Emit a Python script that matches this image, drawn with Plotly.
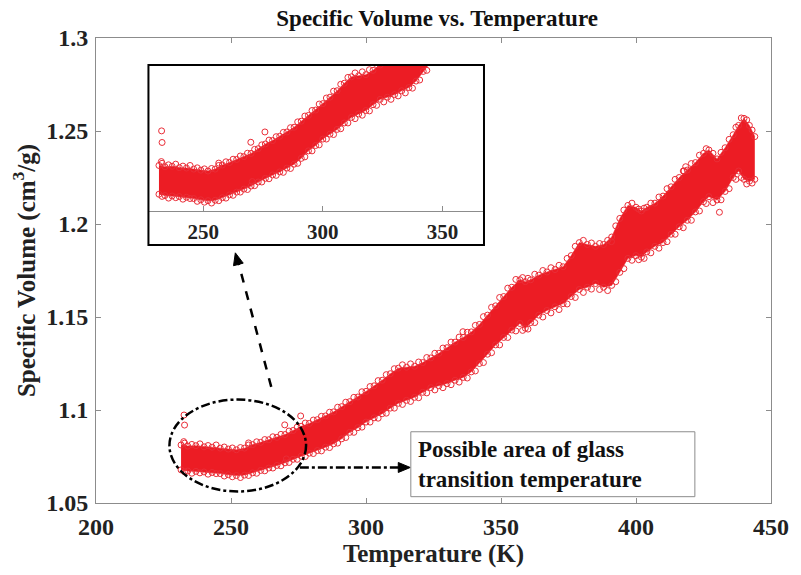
import plotly.graph_objects as go

# ---------------- data ----------------
# Temperature samples along the measured band (K)
T_edge = [231.5, 234, 237, 240, 243, 246, 249, 252, 255, 258,
          261, 264, 267, 270, 273, 276, 279, 282, 285, 288,
          291, 294, 297, 300, 303, 306, 309, 312, 315, 318,
          321, 324, 327, 330, 333, 336, 339, 342, 345, 348,
          351, 354, 357, 359, 361, 364, 367, 370, 373, 376,
          379, 382, 385, 388, 391, 394, 397, 400, 402, 404,
          407, 410, 413, 416, 419, 422, 425, 427, 430, 433,
          436, 438, 440, 442, 444]
# upper edge of the point cloud (cm^3/g)
V_upper = [1.0812, 1.0806, 1.0808, 1.0802, 1.0800, 1.0795, 1.0790, 1.0786, 1.0795, 1.0814,
           1.0826, 1.0840, 1.0853, 1.0868, 1.0890, 1.0912, 1.0928, 1.0948, 1.0968, 1.0990,
           1.1018, 1.1045, 1.1070, 1.1100, 1.1130, 1.1160, 1.1195, 1.1225, 1.1230, 1.1235,
           1.1255, 1.1280, 1.1305, 1.1335, 1.1365, 1.1390, 1.1420, 1.1460, 1.1510, 1.1560,
           1.1610, 1.1660, 1.1700, 1.1690, 1.1700, 1.1725, 1.1742, 1.1755, 1.1770, 1.1830,
           1.1900, 1.1890, 1.1880, 1.1890, 1.1930, 1.2030, 1.2100, 1.2090, 1.2070, 1.2090,
           1.2112, 1.2150, 1.2200, 1.2250, 1.2290, 1.2330, 1.2380, 1.2398, 1.2350, 1.2410,
           1.2480, 1.2530, 1.2568, 1.2530, 1.2470]
# lower edge of the point cloud (cm^3/g)
V_lower = [1.0678, 1.0672, 1.0670, 1.0667, 1.0664, 1.0658, 1.0652, 1.0648, 1.0650, 1.0662,
           1.0675, 1.0688, 1.0702, 1.0716, 1.0735, 1.0752, 1.0768, 1.0782, 1.0800, 1.0818,
           1.0845, 1.0880, 1.0905, 1.0935, 1.0958, 1.0980, 1.1010, 1.1036, 1.1052, 1.1068,
           1.1095, 1.1120, 1.1130, 1.1142, 1.1160, 1.1175, 1.1205, 1.1250, 1.1300, 1.1350,
           1.1390, 1.1430, 1.1465, 1.1440, 1.1470, 1.1510, 1.1535, 1.1555, 1.1572, 1.1610,
           1.1648, 1.1660, 1.1680, 1.1660, 1.1670, 1.1740, 1.1815, 1.1830, 1.1822, 1.1850,
           1.1880, 1.1900, 1.1945, 1.1985, 1.2020, 1.2065, 1.2120, 1.2147, 1.2129, 1.2175,
           1.2250, 1.2285, 1.2240, 1.2230, 1.2240]
# extra fuzzy edge points between the samples above
T_mid = [232.8, 235.5, 238.5, 241.5, 244.5, 247.5, 250.5, 253.5, 256.5, 259.5,
         262.5, 265.5, 268.5, 271.5, 274.5, 277.5, 280.5, 283.5, 286.5, 289.5,
         292.5, 295.5, 298.5, 301.5, 304.5, 307.5, 310.5, 313.5, 316.5, 319.5,
         322.5, 325.5, 328.5, 331.5, 334.5, 337.5, 340.5, 343.5, 346.5, 349.5,
         352.5, 355.5, 358, 360, 362.5, 365.5, 368.5, 371.5, 374.5, 377.5,
         380.5, 383.5, 386.5, 389.5, 392.5, 395.5, 398.5, 401, 403, 405.5,
         408.5, 411.5, 414.5, 417.5, 420.5, 423.5, 426, 428.5, 431.5, 434.5,
         437, 439, 441, 443]
V_upper_mid = [1.0822, 1.0815, 1.0818, 1.0809, 1.0812, 1.0801, 1.0796, 1.0798, 1.0812, 1.0829,
               1.0841, 1.0856, 1.0869, 1.0887, 1.0908, 1.0930, 1.0946, 1.0966, 1.0988, 1.1015,
               1.1042, 1.1068, 1.1098, 1.1126, 1.1158, 1.1190, 1.1222, 1.1243, 1.1248, 1.1258,
               1.1282, 1.1305, 1.1333, 1.1365, 1.1392, 1.1418, 1.1455, 1.1502, 1.1552, 1.1605,
               1.1655, 1.1702, 1.1712, 1.1708, 1.1730, 1.1750, 1.1765, 1.1778, 1.1815, 1.1880,
               1.1912, 1.1898, 1.1895, 1.1912, 1.1990, 1.2075, 1.2112, 1.2080, 1.2085, 1.2112,
               1.2145, 1.2190, 1.2240, 1.2285, 1.2325, 1.2370, 1.2405, 1.2380, 1.2385, 1.2455,
               1.2520, 1.2570, 1.2560, 1.2505]
V_lower_mid = [1.0668, 1.0660, 1.0662, 1.0655, 1.0658, 1.0645, 1.0641, 1.0637, 1.0648, 1.0660,
               1.0673, 1.0688, 1.0700, 1.0718, 1.0735, 1.0750, 1.0766, 1.0780, 1.0798, 1.0822,
               1.0852, 1.0880, 1.0908, 1.0935, 1.0956, 1.0983, 1.1010, 1.1030, 1.1046, 1.1066,
               1.1092, 1.1108, 1.1120, 1.1136, 1.1150, 1.1172, 1.1210, 1.1255, 1.1308, 1.1350,
               1.1390, 1.1425, 1.1428, 1.1435, 1.1470, 1.1500, 1.1522, 1.1540, 1.1570, 1.1605,
               1.1632, 1.1650, 1.1648, 1.1642, 1.1690, 1.1760, 1.1805, 1.1808, 1.1815, 1.1845,
               1.1870, 1.1905, 1.1945, 1.1980, 1.2020, 1.2070, 1.2110, 1.2115, 1.2130, 1.2190,
               1.2240, 1.2250, 1.2215, 1.2220]
# isolated points outside the band
T_out = [232.6, 232.8, 232.5, 256.5, 269.9, 270.5, 275.8, 335.9, 390.9, 417.8, 418.4, 430.9]
V_out = [1.0973, 1.0919, 1.0830, 1.0823, 1.0920, 1.0737, 1.0968, 1.1421, 1.1905, 1.2285, 1.2308, 1.2063]

x_ticks = [200, 250, 300, 350, 400, 450]
y_ticks = [1.05, 1.1, 1.15, 1.2, 1.25, 1.3]
inset_ticks = [250, 300, 350]

RED = "rgb(236,28,36)"
RED_EDGE = "rgb(234,45,55)"
GRAY = "rgb(140,140,140)"
FONT = "Liberation Serif"

fig = go.Figure()

mark_T = T_edge + T_edge + T_mid + T_mid + T_out
mark_V = V_upper + V_lower + V_upper_mid + V_lower_mid + V_out

for xa, ya in (("x", "y"), ("x2", "y2")):
    fig.add_trace(go.Scatter(x=T_edge, y=V_lower, mode="lines",
                             line=dict(width=0.5, color=RED), xaxis=xa, yaxis=ya,
                             showlegend=False, hoverinfo="skip"))
    fig.add_trace(go.Scatter(x=T_edge, y=V_upper, mode="lines", fill="tonexty",
                             fillcolor=RED, line=dict(width=0.5, color=RED),
                             xaxis=xa, yaxis=ya, showlegend=False, hoverinfo="skip"))
    fig.add_trace(go.Scatter(x=mark_T, y=mark_V, mode="markers",
                             marker=dict(symbol="circle-open", size=6, color=RED_EDGE,
                                         line=dict(width=1)),
                             xaxis=xa, yaxis=ya, showlegend=False))

axis_common = dict(showgrid=False, zeroline=False, showline=True, linecolor=GRAY,
                   linewidth=1, ticks="inside", tickcolor=GRAY, ticklen=5,
                   tickfont=dict(family=FONT, size=24, color="#222", weight="bold"))

fig.update_layout(
    width=801, height=575,
    margin=dict(l=96, r=23, t=38, b=72),
    paper_bgcolor="white", plot_bgcolor="white",
    title=dict(text="Specific Volume vs. Temperature", x=0.5457, xanchor="center",
               y=1 - 18 / 575, yanchor="middle", yref="container",
               font=dict(family=FONT, size=23, color="#111", weight="bold")),
    xaxis=dict(range=[200, 450], tickvals=x_ticks, mirror="ticks", ticklabelstandoff=2,
               title=dict(text="Temperature (K)", standoff=4,
                          font=dict(family=FONT, size=25, color="#222", weight="bold")),
               **axis_common),
    yaxis=dict(range=[1.05, 1.3], tickvals=y_ticks, mirror="ticks", ticklabelstandoff=2,
               title=dict(text="Specific Volume (cm<sup>3</sup>/g)", standoff=3,
                          font=dict(family=FONT, size=25, color="#222", weight="bold")),
               **axis_common),
    xaxis2=dict(domain=[0.0777, 0.5748], anchor="y2", range=[227.1, 367.4],
                tickvals=inset_ticks, showgrid=False, zeroline=False, showline=True,
                linecolor=GRAY, linewidth=1, ticks="inside", tickcolor=GRAY, ticklen=5,
                ticklabelstandoff=2,
                tickfont=dict(family=FONT, size=21, color="#222", weight="bold")),
    yaxis2=dict(domain=[0.628, 0.942], anchor="x2", range=[1.060, 1.128], visible=False),
    showlegend=False,
)

# inset frame
fig.add_shape(type="rect", xref="paper", yref="paper", x0=0.0777, x1=0.5748,
              y0=0.555, y1=0.942, line=dict(color="black", width=2))
# ellipse around the possible glass-transition region
fig.add_shape(type="circle", xref="x", yref="y", x0=227.2, x1=277.8, y0=1.0562, y1=1.1056,
              line=dict(color="black", width=2.5, dash="dashdot"))
# dashed line toward inset, with a filled arrowhead
fig.add_shape(type="line", xref="x", yref="y", x0=264.9, y0=1.1124, x1=252.6, y1=1.1800,
              line=dict(color="black", width=2.5, dash="dash"))
fig.add_shape(type="path", xref="x", yref="y", xsizemode="pixel", ysizemode="pixel",
              xanchor=251.6, yanchor=1.1845,
              path="M0,0 L7.9,-10.3 L-1.8,-12.9 Z",
              fillcolor="black", line=dict(color="black", width=1))
# dash-dot line toward label, with a filled arrowhead
fig.add_shape(type="line", xref="x", yref="y", x0=275.5, y0=1.0691, x1=312.5, y1=1.0691,
              line=dict(color="black", width=2.5, dash="dashdot"))
fig.add_shape(type="path", xref="x", yref="y", xsizemode="pixel", ysizemode="pixel",
              xanchor=316.4, yanchor=1.0691,
              path="M0,0 L-12,5 L-12,-5 Z",
              fillcolor="black", line=dict(color="black", width=1))
# label box
fig.add_shape(type="rect", xref="x", yref="y", x0=316.6, x1=421.8, y0=1.0534, y1=1.0883,
              line=dict(color=GRAY, width=1), fillcolor="white")
fig.add_annotation(x=318.6, y=1.0709, xref="x", yref="y", xanchor="left", yanchor="middle",
                   align="left", showarrow=False,
                   text="Possible area of glass<br>transition temperature",
                   font=dict(family=FONT, size=23, color="#111", weight="bold"))

fig.write_html("out.html")
